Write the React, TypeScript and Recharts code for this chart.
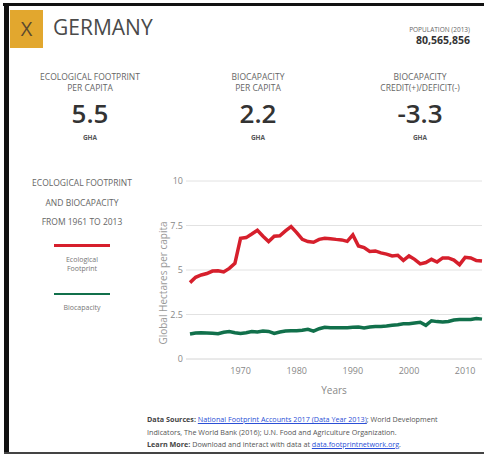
import React from 'react';
import { LineChart, Line, XAxis, YAxis, CartesianGrid, Legend } from 'recharts';

// Germany, global hectares per capita, 1961-2013
const years = [
  1961, 1962, 1963, 1964, 1965, 1966, 1967, 1968, 1969, 1970,
  1971, 1972, 1973, 1974, 1975, 1976, 1977, 1978, 1979, 1980,
  1981, 1982, 1983, 1984, 1985, 1986, 1987, 1988, 1989, 1990,
  1991, 1992, 1993, 1994, 1995, 1996, 1997, 1998, 1999, 2000,
  2001, 2002, 2003, 2004, 2005, 2006, 2007, 2008, 2009, 2010,
  2011, 2012, 2013,
];
const footprint = [
  4.29, 4.59, 4.72, 4.8, 4.94, 4.96, 4.89, 5.09, 5.37, 6.78,
  6.82, 7.02, 7.23, 6.9, 6.6, 6.9, 6.92, 7.2, 7.44, 7.1,
  6.72, 6.6, 6.56, 6.72, 6.78, 6.76, 6.72, 6.69, 6.61, 6.97,
  6.35, 6.26, 6.04, 6.07, 5.96, 5.89, 5.79, 5.83, 5.54, 5.79,
  5.6, 5.34, 5.42, 5.6, 5.45, 5.68, 5.68, 5.56, 5.3, 5.71,
  5.68, 5.53, 5.5,
];
const biocapacity = [
  1.4, 1.46, 1.48, 1.46, 1.44, 1.42, 1.5, 1.54, 1.48, 1.44,
  1.48, 1.54, 1.52, 1.57, 1.55, 1.44, 1.52, 1.57, 1.59, 1.59,
  1.61, 1.67, 1.57, 1.7, 1.78, 1.76, 1.76, 1.76, 1.76, 1.78,
  1.8, 1.74, 1.8, 1.82, 1.83, 1.85, 1.89, 1.93, 1.98, 1.98,
  2.02, 2.06, 1.89, 2.15, 2.1, 2.08, 2.11, 2.19, 2.22, 2.22,
  2.22, 2.28, 2.24,
];
const seriesOrder = ['footprint', 'biocapacity'];
const xTicks = [1970, 1980, 1990, 2000, 2010];
const yTicks = [0, 2.5, 5, 7.5, 10];

const stats = [
  { label: ['ECOLOGICAL FOOTPRINT', 'PER CAPITA'], value: '5.5', center: 90 },
  { label: ['BIOCAPACITY', 'PER CAPITA'], value: '2.2', center: 258 },
  { label: ['BIOCAPACITY', 'CREDIT(+)/DEFICIT(-)'], value: '-3.3', center: 420 },
];

const chartData = years.map((year, i) => ({
  year,
  footprint: footprint[i],
  biocapacity: biocapacity[i],
}));

const FONT = '"Open Sans", "Noto Sans", sans-serif';

function LegendBox(props: any) {
  const items = [...(props.payload || [])].sort(
    (a: any, b: any) => seriesOrder.indexOf(a.dataKey) - seriesOrder.indexOf(b.dataKey)
  );
  return (
    <div style={{ fontFamily: FONT }}>
      {items.map((entry: any, i: number) => (
        <div key={i} style={{ marginBottom: i === 0 ? 20 : 0 }}>
          <div style={{ height: 2.5, background: entry.color }} />
          <div
            style={{
              fontSize: 7,
              lineHeight: '9px',
              color: '#777',
              textAlign: 'center',
              marginTop: 8,
            }}
          >
            {entry.value}
          </div>
        </div>
      ))}
    </div>
  );
}

function YLabel(props: any) {
  const { viewBox } = props;
  const x = viewBox.x + 13;
  const y = viewBox.y + viewBox.height / 2 + 13;
  return (
    <text
      x={x}
      y={y}
      transform={`rotate(-90, ${x}, ${y})`}
      textAnchor="middle"
      dominantBaseline="central"
      fill="#999"
      fontSize={10}
      fontFamily={FONT}
    >
      Global Hectares per capita
    </text>
  );
}

export default function App() {
  return (
    <div
      style={{
        position: 'absolute',
        left: 0,
        top: 0,
        width: 484,
        height: 456,
        background: '#fff',
        fontFamily: FONT,
        overflow: 'hidden',
      }}
    >
      {/* frame */}
      <div style={{ position: 'absolute', left: 3, top: 3, width: 481, height: 3, background: '#111' }} />
      <div style={{ position: 'absolute', left: 4, top: 3, width: 5, height: 451, background: '#111' }} />
      <div style={{ position: 'absolute', left: 4, top: 452, width: 480, height: 2, background: '#444' }} />

      {/* header */}
      <div
        style={{
          position: 'absolute',
          left: 10,
          top: 10,
          width: 33,
          height: 38,
          background: '#e2a72e',
          color: '#5c4a2e',
          fontSize: 20,
          lineHeight: '38px',
          textAlign: 'center',
        }}
      >
        X
      </div>
      <div style={{ position: 'absolute', left: 53, top: 13, fontSize: 21, lineHeight: '28px', color: '#4a4a4a' }}>
        GERMANY
      </div>
      <div style={{ position: 'absolute', right: 14, top: 25, textAlign: 'right' }}>
        <div style={{ fontSize: 6.5, lineHeight: '9px', color: '#666' }}>POPULATION (2013)</div>
        <div style={{ fontSize: 10.5, lineHeight: '13px', fontWeight: 700, color: '#333' }}>80,565,856</div>
      </div>

      {stats.map((s) => (
        <div
          key={s.value}
          style={{ position: 'absolute', left: s.center - 80, top: 71, width: 160, textAlign: 'center' }}
        >
          <div style={{ fontSize: 8.5, lineHeight: '11px', color: '#666' }}>
            {s.label[0]}
            <br />
            {s.label[1]}
          </div>
          <div style={{ fontSize: 26, lineHeight: '28px', fontWeight: 600, color: '#333', marginTop: 6 }}>
            {s.value}
          </div>
          <div style={{ fontSize: 6.5, lineHeight: '9px', fontWeight: 700, color: '#555', marginTop: 6 }}>GHA</div>
        </div>
      ))}

      {/* left title */}
      <div
        style={{
          position: 'absolute',
          left: 17,
          top: 173,
          width: 130,
          textAlign: 'center',
          fontSize: 8.5,
          lineHeight: '19.5px',
          color: '#666',
        }}
      >
        ECOLOGICAL FOOTPRINT
        <br />
        AND BIOCAPACITY
        <br />
        FROM 1961 TO 2013
      </div>

      <div style={{ position: 'absolute', left: 10, top: 170 }}>
        <LineChart width={474} height={230} data={chartData} margin={{ top: 11, right: 2, bottom: 0, left: 140 }}>
          <CartesianGrid horizontal vertical={false} stroke="#e2e2e2" />
          <XAxis
            dataKey="year"
            type="number"
            domain={[1961, 2013]}
            ticks={xTicks}
            padding={{ left: 4, right: 0 }}
            height={41}
            tickLine={false}
            tickSize={0}
            tickMargin={9}
            axisLine={{ stroke: '#e2e2e2' }}
            tick={{ fill: '#888', fontSize: 9, fontFamily: FONT }}
            label={{ value: 'Years', position: 'insideBottom', offset: 6, fill: '#888', fontSize: 10, fontFamily: FONT }}
          />
          <YAxis
            type="number"
            domain={[0, 10]}
            ticks={yTicks}
            width={36}
            axisLine={false}
            tickLine={false}
            tickSize={0}
            tickMargin={3}
            tick={{ fill: '#888', fontSize: 9, fontFamily: FONT }}
            label={<YLabel />}
          />
          <Legend
            layout="vertical"
            align="center"
            verticalAlign="middle"
            content={<LegendBox />}
            wrapperStyle={{ left: 44, top: 74, width: 56, height: 'auto' }}
          />
          <Line
            type="linear"
            dataKey="footprint"
            name="Ecological Footprint"
            stroke="#d61f2c"
            strokeWidth={3.5}
            dot={false}
            isAnimationActive={false}
          />
          <Line
            type="linear"
            dataKey="biocapacity"
            name="Biocapacity"
            stroke="#11704b"
            strokeWidth={3.5}
            dot={false}
            isAnimationActive={false}
          />
        </LineChart>
      </div>

      {/* footer */}
      <div
        style={{
          position: 'absolute',
          left: 147,
          top: 413,
          width: 330,
          fontSize: 7.2,
          lineHeight: '12.5px',
          color: '#555',
          whiteSpace: 'nowrap',
        }}
      >
        <b style={{ color: '#444' }}>Data Sources:</b>{' '}
        <span style={{ color: '#2b4fd6', textDecoration: 'underline' }}>
          National Footprint Accounts 2017 (Data Year 2013)
        </span>
        ; World Development
        <br />
        Indicators, The World Bank (2016); U.N. Food and Agriculture Organization.
        <br />
        <b style={{ color: '#444' }}>Learn More:</b> Download and interact with data at{' '}
        <span style={{ color: '#2b4fd6', textDecoration: 'underline' }}>data.footprintnetwork.org</span>.
      </div>
    </div>
  );
}
